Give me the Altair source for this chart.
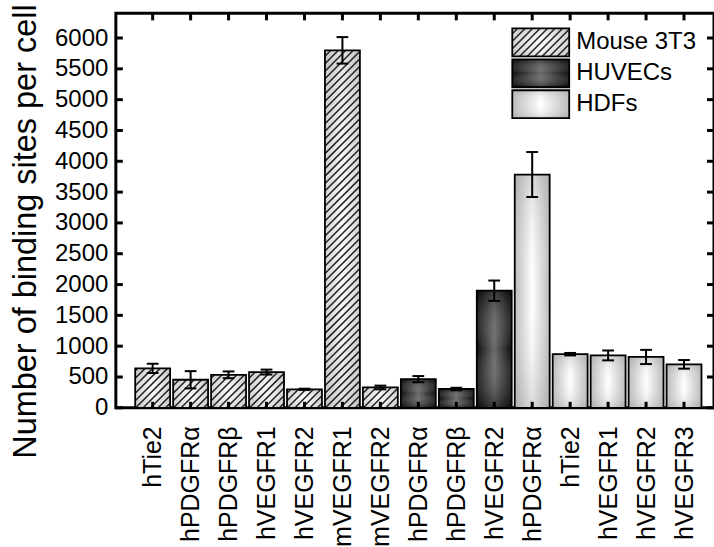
import json
import altair as alt
import pandas as pd

# ---------------- data ----------------
categories = ["hTie2", "hPDGFRα", "hPDGFRβ", "hVEGFR1", "hVEGFR2", "mVEGFR1", "mVEGFR2",
              "hPDGFRα", "hPDGFRβ", "hVEGFR2",
              "hPDGFRα", "hTie2", "hVEGFR1", "hVEGFR2", "hVEGFR3"]
cell_types = ["Mouse 3T3"] * 7 + ["HUVECs"] * 3 + ["HDFs"] * 5
sites = [640, 455, 535, 580, 300, 5800, 330, 465, 305, 1900, 3785, 870, 850, 825, 705]
sites_err = [75, 140, 55, 40, 10, 215, 30, 50, 20, 165, 365, 20, 80, 115, 70]
y_tick_values = [0, 500, 1000, 1500, 2000, 2500, 3000, 3500, 4000, 4500, 5000, 5500, 6000]
legend_labels = ["Mouse 3T3", "HUVECs", "HDFs"]

df = pd.DataFrame({"idx": list(range(1, len(categories) + 1)), "label": categories,
                   "cell": cell_types, "value": sites, "err": sites_err})
legend_df = pd.DataFrame({"row": list(range(len(legend_labels))), "cell": legend_labels})
ticks_df = pd.DataFrame({"tick": y_tick_values})

# ---------------- layout / style ----------------
W, H = 599, 395
X_DOM = [0.03, 15.79]
Y_DOM = [0, 6400]
KX = W / (X_DOM[1] - X_DOM[0])
KY = H / (Y_DOM[1] - Y_DOM[0])
R = KX / KY                 # y-units per x-unit for a 45 degree line
HATCH_STEP = 7.5 / KY       # hatch spacing (vertical), in y units
BAR_HALF = 0.46
CAP_HALF = 0.155
FONT = "Liberation Sans"

LEG_X0, LEG_X1, LEG_TOP, LEG_ROW, LEG_H, LEG_TEXT_X = 397, 454, 15, 31, 28, 461

xs = alt.Scale(domain=X_DOM, nice=False, zero=False)
ys = alt.Scale(domain=Y_DOM, nice=False, zero=False)

label_expr = "[" + ",".join(json.dumps(c, ensure_ascii=False) for c in categories) + "][datum.value - 1]"
X_AXIS = alt.Axis(values=list(range(1, len(categories) + 1)), labelExpr=label_expr,
                  labelAngle=270, labelFontSize=25, labelFont=FONT, labelColor="black",
                  labelPadding=18, ticks=False, domain=False, grid=False,
                  labelFlush=False, labelOverlap=False, title=None)
Y_AXIS = alt.Axis(values=y_tick_values, format="d", labelFontSize=24, labelFont=FONT,
                  labelColor="black", labelPadding=8, ticks=False, domain=False,
                  grid=False, title="Number of binding sites per cell",
                  titleFontSize=32.5, titleFont=FONT, titleFontWeight="normal",
                  titleColor="black", titleX=-80, titleY=218, titleAngle=270,
                  titleAlign="center", titleBaseline="alphabetic")


def X(field):
    return alt.X(field, scale=xs, axis=X_AXIS)


def Y(field):
    return alt.Y(field, scale=ys, axis=Y_AXIS)


def hgrad(edge, center):
    return {"gradient": "linear", "x1": 0, "y1": 0, "x2": 1, "y2": 0,
            "stops": [{"offset": 0, "color": edge}, {"offset": 0.5, "color": center},
                      {"offset": 1, "color": edge}]}


def vgrad(edge):
    return {"gradient": "linear", "x1": 0, "y1": 0, "x2": 0, "y2": 1,
            "stops": [{"offset": 0, "color": edge}, {"offset": 0.5, "color": "rgba(255,255,255,0)"},
                      {"offset": 1, "color": edge}]}


FILLS = {
    "Mouse 3T3": (hgrad("#d2d2d2", "#fbfbfb"), vgrad("rgba(150,150,150,0.25)")),
    "HUVECs": (hgrad("#0e0e0e", "#6a6a6a"), vgrad("rgba(0,0,0,0.45)")),
    "HDFs": (hgrad("#b9b9b9", "#ffffff"), vgrad("rgba(150,150,150,0.35)")),
}


def enc_rect(ch):
    return ch.encode(x=X("x0:Q"), x2="x1:Q", y=Y("y0:Q"), y2="y1:Q")


def hatch(base):
    r, s = R, HATCH_STEP
    ch = base.transform_calculate(
        hw="datum.x1 - datum.x0", hh="datum.y1 - datum.y0"
    ).transform_calculate(
        b=f"sequence(-{r}*datum.hw + {s * 0.6}, datum.hh, {s})"
    ).transform_flatten(["b"]).transform_calculate(
        hx0=f"datum.b >= 0 ? datum.x0 : datum.x0 - datum.b/{r}",
        hy0=f"datum.b >= 0 ? datum.y0 + datum.b : datum.y0",
        hx1=f"datum.b + {r}*datum.hw <= datum.hh ? datum.x1 : datum.x0 + (datum.hh - datum.b)/{r}",
        hy1=f"datum.b + {r}*datum.hw <= datum.hh ? datum.y0 + datum.b + {r}*datum.hw : datum.y1",
    )
    return ch.mark_rule(stroke="#222222", strokeWidth=1.5).encode(
        x=X("hx0:Q"), x2="hx1:Q", y=Y("hy0:Q"), y2="hy1:Q")


bars = alt.Chart(df).transform_calculate(
    x0=f"datum.idx - {BAR_HALF}", x1=f"datum.idx + {BAR_HALF}", y0="0", y1="datum.value")

leg_ytop = Y_DOM[1] - LEG_TOP / KY
legend = alt.Chart(legend_df).transform_calculate(
    x0=str(X_DOM[0] + LEG_X0 / KX), x1=str(X_DOM[0] + LEG_X1 / KX),
    y1=f"{leg_ytop} - datum.row*{LEG_ROW / KY}",
).transform_calculate(y0=f"datum.y1 - {LEG_H / KY}")

layers = []
for base in (bars, legend):
    for cell in legend_labels:
        sub = base.transform_filter(alt.datum.cell == cell)
        g1, g2 = FILLS[cell]
        layers.append(enc_rect(sub.mark_rect(fill=g1, strokeWidth=0)))
        layers.append(enc_rect(sub.mark_rect(fill=g2, strokeWidth=0)))
        if cell == "Mouse 3T3":
            layers.append(hatch(sub))

layers.append(enc_rect(bars.mark_rect(fillOpacity=0, stroke="black", strokeWidth=1.8)))
layers.append(enc_rect(legend.mark_rect(fillOpacity=0, stroke="black", strokeWidth=1.8)))

err = bars.transform_calculate(lo="datum.value - datum.err", hi="datum.value + datum.err",
                               c0=f"datum.idx - {CAP_HALF}", c1=f"datum.idx + {CAP_HALF}")
layers.append(err.mark_rule(stroke="black", strokeWidth=2).encode(
    x=X("idx:Q"), y=Y("lo:Q"), y2="hi:Q"))
for f in ("lo", "hi"):
    layers.append(err.mark_rule(stroke="black", strokeWidth=2).encode(
        x=X("c0:Q"), x2="c1:Q", y=Y(f"{f}:Q")))

# inward ticks on all four sides
layers.append(alt.Chart(df).mark_rule(stroke="black", strokeWidth=3).encode(
    x=X("idx:Q"), y=alt.value(H), y2=alt.value(H - 6)))
layers.append(alt.Chart(df).mark_rule(stroke="black", strokeWidth=3).encode(
    x=X("idx:Q"), y=alt.value(0), y2=alt.value(7)))
layers.append(alt.Chart(ticks_df).mark_rule(stroke="black", strokeWidth=3).encode(
    y=Y("tick:Q"), x=alt.value(0), x2=alt.value(7)))
layers.append(alt.Chart(ticks_df).mark_rule(stroke="black", strokeWidth=3).encode(
    y=Y("tick:Q"), x=alt.value(W), x2=alt.value(W - 7)))

# legend text
layers.append(legend.transform_calculate(
    tx=str(X_DOM[0] + LEG_TEXT_X / KX),
    ty=f"datum.y1 - {LEG_H / 2 / KY}",
).mark_text(align="left", baseline="middle", fontSize=24, font=FONT, color="black").encode(
    x=X("tx:Q"), y=Y("ty:Q"), text="cell:N"))

chart = alt.layer(*layers).properties(
    width=W, height=H,
    autosize=alt.AutoSizeParams(type="none"),
    padding={"left": 116, "top": 13, "right": 0, "bottom": 139},
).configure_view(stroke="black", strokeWidth=3)

chart.save("out.html", embed_options={"renderer": "svg", "actions": False})
